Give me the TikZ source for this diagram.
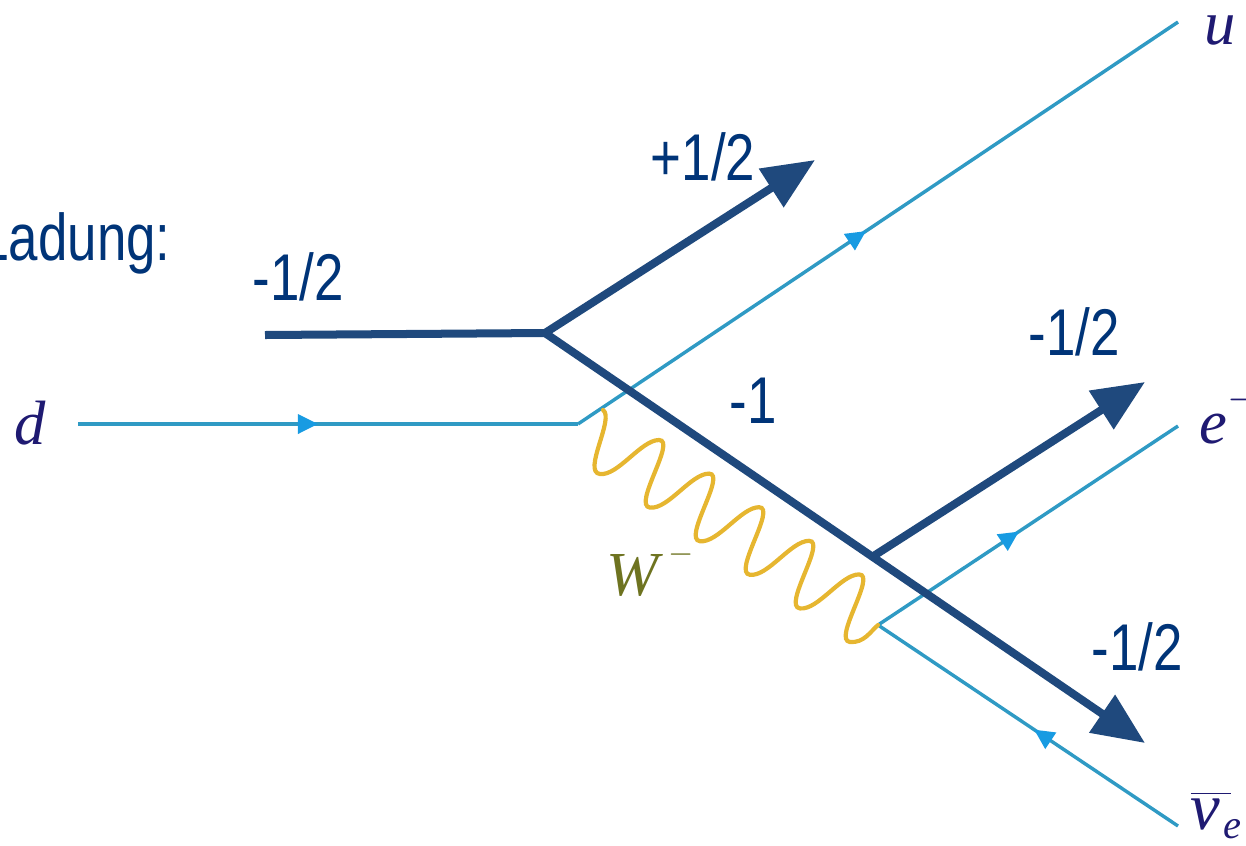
\documentclass[tikz,border=0pt]{standalone}
\usepackage{fontspec}
\usepackage{xcolor}
\usepackage{tikz}
\usetikzlibrary{arrows.meta}
\usetikzlibrary{decorations.markings}
\setmainfont{Liberation Sans}
\newfontfamily\chargefont[FakeStretch=0.8]{Liberation Sans}
\newfontfamily\particlefont[ItalicFont={Liberation Serif Italic}]{Liberation Serif}
\definecolor{chargeblue}{HTML}{1F497D}
\definecolor{chargetext}{HTML}{003478}
\definecolor{fermionblue}{HTML}{2F9AC4}
\definecolor{headblue}{HTML}{189BE2}
\definecolor{wgold}{HTML}{E6B630}
\definecolor{wolive}{HTML}{6E7320}
\definecolor{particlenavy}{HTML}{1F1A72}
\tikzset{
  % thin quark and lepton lines, with a small head somewhere along them
  fermion/.style={draw=fermionblue,line width=1.1mm/3.2},
  head at/.style={postaction={decorate,decoration={
        markings,
        mark=at position #1 with {\arrow[headblue]{Triangle[length=2mm,width=1.9mm]}}
      }}},
  % charge flow
  chargeline/.style={draw=chargeblue,line width=0.8mm},
  chargearrow/.style={chargeline,-{Triangle[length=5.2mm,width=4.4mm]}},
  chargelabel/.style={anchor=base,inner sep=0pt,text=chargetext,font=\chargefont\fontsize{18.8}{20}\selectfont},
  particle/.style={anchor=base,inner sep=0pt,text=particlenavy,font=\particlefont\itshape\fontsize{17.8}{20}\selectfont},
  wboson/.style={draw=wgold,line width=0.42mm,line cap=round},
}
\begin{document}
\begin{tikzpicture}[x=0.01cm,y=-0.01cm]
    \useasboundingbox (0,0) rectangle (1246,845);
    \coordinate (din) at (78,424);
    \coordinate (qvertex) at (578,424);
    \coordinate (uout) at (1178,22);
    \coordinate (lvertex) at (878,625);
    \coordinate (eout) at (1178,426);
    \coordinate (nuout) at (1178,826);
    \coordinate (wstart) at (603,410);
    \coordinate (wend) at (lvertex);
    \coordinate (chargein) at (265,335);
    \coordinate (chargesplit) at (545,333);
    \coordinate (chargeup) at (815,160);
    \coordinate (chargedown) at (1145,743);
    \coordinate (chargebranch) at (872,557);
    \coordinate (chargeelectron) at (1145,382);

    \path [fermion,head at=0.48] (din)--(qvertex);
    \path [fermion,head at=0.48] (qvertex)--(uout);
    \path [fermion,head at=0.47] (lvertex)--(eout);
    \path [fermion,head at=0.48] (nuout)--(lvertex);

    \draw[wboson] (wstart) .. controls +(12,8) and +(-18,-2) .. ++(-3,64)
      \foreach \i in {0,...,4}{
        .. controls +(18,2) and +(-18,0) .. ++(59,-34)
        .. controls +(18,0) and +(-18,-2) .. ++(-9,67.6)
      } .. controls +(14,1) and +(-8,7) .. (wend);

    \begin{scope}[line join=miter]
    \draw[chargeline] (chargein)--(chargesplit);
    \draw[chargearrow] (chargesplit)--(chargeup);
    \draw[chargearrow] (chargesplit)--(chargedown);
    \draw[chargearrow] (chargebranch)--(chargeelectron);
    \end{scope}

    \node[chargelabel] (ladung) at (75,260) {Ladung:};
    \node[chargelabel] (qminus) at (298,300) {-1/2};
    \node[chargelabel] (qplus) at (703,180) {+1/2};
    \node[chargelabel] (wcharge) at (753,423) {-1};
    \node[chargelabel] (echarge) at (1074,355) {-1/2};
    \node[chargelabel] (nucharge) at (1137,670) {-1/2};

    \node[particle] (dlabel) at (30,444) {d};
    \node[particle] (ulabel) at (1220,44) {u};
    \node[particle] (elabel) at (1231,443) {e\raisebox{3pt}{$^{-}$}};
    \node[particle,text=wolive] (wlabel) at (651,595) {W\hspace{3pt}\raisebox{3pt}{$^{\scriptscriptstyle-}$}};
    \node[particle] (nulabel) at (1217,829) {$\overline{\hbox{\fontsize{19}{20}\selectfont ν}\,}_{\hbox{\hspace{-2pt}\fontsize{11.5}{12}\selectfont e}}$};
\end{tikzpicture}
\end{document}
